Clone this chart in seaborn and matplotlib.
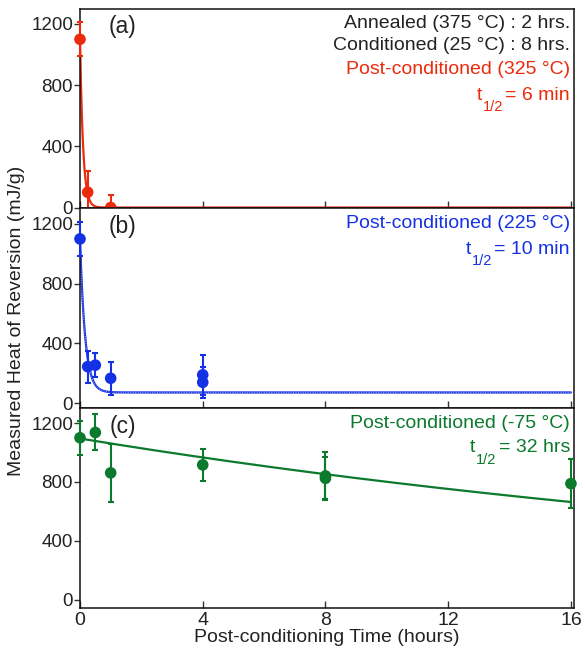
import numpy as np
import pandas as pd
import matplotlib
matplotlib.use("Agg")
import matplotlib.pyplot as plt
import seaborn as sns

# ---- measured heat of reversion (mJ/g) vs post-conditioning time (h) ----
t_a = [0.0, 0.25, 1.0]
y_a = [1100, 100, 0]
e_a = [112, 140, 80]

t_b = [0.0, 0.25, 0.5, 1.0, 4.0, 4.0]
y_b = [1100, 245, 255, 167, 190, 140]
e_b = [112, 107, 78, 110, 135, 102]

t_c = [0.0, 0.5, 1.0, 4.0, 8.0, 8.0, 16.0]
y_c = [1100, 1136, 862, 916, 841, 825, 789]
e_c = [115, 122, 195, 110, 160, 142, 167]

# exponential fit parameters: y = plateau + (y0 - plateau) * exp(-t / t_half)
fit_a = dict(y0=1100, plateau=0, t_half=6 / 60)
fit_b = dict(y0=1100, plateau=72, t_half=10 / 60)
fit_c = dict(y0=1095, plateau=0, t_half=32)

panel_labels = ["(a)", "(b)", "(c)"]
header_lines = ["Annealed (375 \u00b0C) : 2 hrs.", "Conditioned (25 \u00b0C) : 8 hrs."]
post_labels = ["Post-conditioned (325 \u00b0C)",
               "Post-conditioned (225 \u00b0C)",
               "Post-conditioned (-75 \u00b0C)"]
half_life_labels = ["= 6 min", "= 10 min", "= 32 hrs"]
x_ticks = [0, 4, 8, 12, 16]
y_ticks = [0, 400, 800, 1200]

RED = "#ec2a0c"
BLUE = "#1531e6"
GREEN = "#0b7a2c"

sns.set_theme(style="ticks")
plt.rcParams["font.family"] = ["Liberation Sans", "DejaVu Sans"]

W, H = 585, 651
fig = plt.figure(figsize=(W / 100, H / 100), dpi=100)


def fx(px):
    return px / W


def fy(py):
    return 1 - py / H


left, right = 80, 574
bounds = [(9, 208), (208, 408), (408, 608)]
ylims = [(-3, 1298), (-32, 1307), (-55, 1302)]

series = [(t_a, y_a, e_a, fit_a, RED),
          (t_b, y_b, e_b, fit_b, BLUE),
          (t_c, y_c, e_c, fit_c, GREEN)]

axes = []
for i, ((top, bot), (t, y, e, fit, col)) in enumerate(zip(bounds, series)):
    ax = fig.add_axes([fx(left), fy(bot), fx(right - left), (bot - top) / H])
    axes.append(ax)

    tt = np.linspace(0, 16, 1600)
    yy = fit["plateau"] + (fit["y0"] - fit["plateau"]) * np.exp(-tt / fit["t_half"])
    fit_df = pd.DataFrame({"t": tt, "y": yy})
    sns.lineplot(data=fit_df, x="t", y="y", ax=ax, color=col, lw=1.6,
                 zorder=2, clip_on=True)
    if fit["plateau"] > 0:
        sns.lineplot(data=fit_df, x="t", y="y", ax=ax, color="white", lw=0.7,
                     ls=(0, (1, 1.5)), alpha=0.55, zorder=2)

    ax.errorbar(t, y, yerr=e, fmt="none", ecolor=col, elinewidth=1.5,
                capsize=2.5, capthick=1.5, zorder=3, clip_on=False)
    pts = pd.DataFrame({"t": t, "y": y})
    sns.scatterplot(data=pts, x="t", y="y", ax=ax, color=col, s=70,
                    edgecolor="none", zorder=4, clip_on=False)

    ax.set_xlim(0, 16.1)
    ax.set_ylim(*ylims[i])
    ax.set_xticks(x_ticks)
    ax.set_yticks(y_ticks)
    ax.set_xlabel("")
    ax.set_ylabel("")
    ax.tick_params(axis="x", direction="in", length=5, width=1.0,
                   color="#333333", labelsize=14, pad=3)
    ax.tick_params(axis="y", direction="out", length=4, width=1.0,
                   color="#333333", labelsize=13.5, pad=1)
    if i < 2:
        ax.tick_params(axis="x", labelbottom=False)
    for sp in ax.spines.values():
        sp.set_visible(True)
        sp.set_linewidth(1.1)
        sp.set_color("#111111")
    for lab in ax.get_yticklabels() + ax.get_xticklabels():
        lab.set_color("#222222")

axes[2].set_xticklabels([str(v) for v in x_ticks])
axes[2].set_xlabel("Post-conditioning Time (hours)", fontsize=14,
                   color="#222222", labelpad=0)

fig.text(fx(17), fy(321), "Measured Heat of Reversion (mJ/g)", rotation=90,
         ha="center", va="center", fontsize=14, color="#222222")

# panel letters
for lab, yc in zip(panel_labels, [26, 227, 427]):
    fig.text(fx(123), fy(yc), lab, ha="center", va="center", fontsize=16.5,
             color="#222222")

# annotations
xr = fx(570)
fig.text(xr, fy(24), header_lines[0], ha="right", va="center", fontsize=14,
         color="#222222")
fig.text(xr, fy(45), header_lines[1], ha="right", va="center", fontsize=14,
         color="#222222")

post_y = [70, 224, 423]
half_y = [95, 249, 448]
colors = [RED, BLUE, GREEN]
eq_texts = []
for lab, hl, py, hy, col in zip(post_labels, half_life_labels, post_y, half_y, colors):
    fig.text(xr, fy(py), lab, ha="right", va="center", fontsize=14, color=col)
    eq_texts.append((fig.text(xr, fy(hy), hl, ha="right", va="center",
                              fontsize=14, color=col), hy, col))

fig.canvas.draw()
renderer = fig.canvas.get_renderer()
for txt, hy, col in eq_texts:
    bb = txt.get_window_extent(renderer)
    x_eq = bb.x0
    fig.text(fx(x_eq - 23), fy(hy), "t", ha="right", va="center",
             fontsize=14, color=col)
    fig.text(fx(x_eq - 23), fy(hy + 12), "1/2", ha="left", va="center",
             fontsize=10.5, color=col)

fig.savefig("out.png", dpi=100)
